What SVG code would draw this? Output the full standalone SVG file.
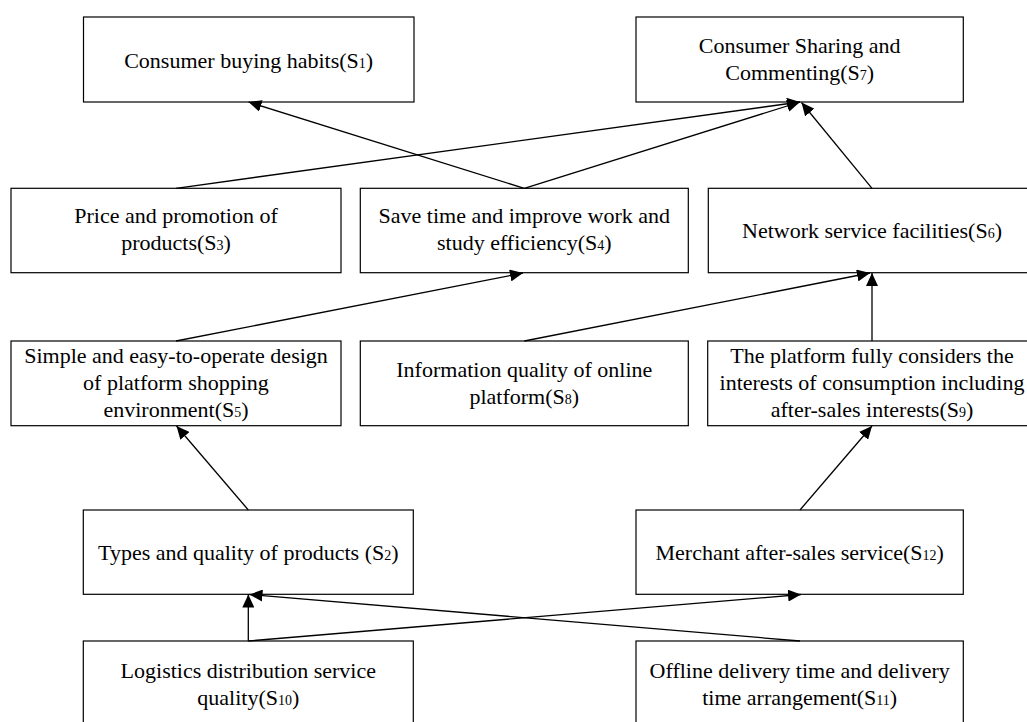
<svg xmlns="http://www.w3.org/2000/svg" width="1027" height="722" viewBox="0 0 1027 722">
<style>
.box{fill:#fff;stroke:#000;stroke-width:1.2}
.t{font-family:"Liberation Serif","Times New Roman",serif;font-size:22px;fill:#000;text-anchor:middle}
.sub{font-size:14px}
.c{stroke:#000;stroke-width:1.3;fill:none;marker-end:url(#ah)}
</style>
<defs>
<marker id="ah" markerUnits="userSpaceOnUse" markerWidth="14" markerHeight="12" refX="13" refY="6" orient="auto" viewBox="0 0 14 12">
<path d="M0,0 L13,6 L0,12 z" fill="#000"/>
</marker>
</defs>
<rect width="1027" height="722" fill="#fff"/>
<g id="S1"><rect class="box" x="83.5" y="17" width="330.5" height="85"/><text class="t" x="248.7" y="68">Consumer buying habits(S<tspan class="sub">1</tspan>)</text></g>
<g id="S7"><rect class="box" x="636" y="17" width="327.3" height="85"/><text class="t" x="799.7" y="53">Consumer Sharing and</text><text class="t" x="799.7" y="80">Commenting(S<tspan class="sub">7</tspan>)</text></g>
<g id="S3"><rect class="box" x="11" y="188.3" width="330" height="84.4"/><text class="t" x="176" y="223">Price and promotion of</text><text class="t" x="176" y="250">products(S<tspan class="sub">3</tspan>)</text></g>
<g id="S4"><rect class="box" x="360.3" y="188.3" width="328" height="84.4"/><text class="t" x="524.3" y="223">Save time and improve work and</text><text class="t" x="524.3" y="250">study efficiency(S<tspan class="sub">4</tspan>)</text></g>
<g id="S6"><rect class="box" x="708.3" y="188.3" width="327.5" height="84.4"/><text class="t" x="872" y="238">Network service facilities(S<tspan class="sub">6</tspan>)</text></g>
<g id="S5"><rect class="box" x="11" y="341" width="330" height="84.7"/><text class="t" x="176" y="363">Simple and easy-to-operate design</text><text class="t" x="176" y="390">of platform shopping</text><text class="t" x="176" y="417">environment(S<tspan class="sub">5</tspan>)</text></g>
<g id="S8"><rect class="box" x="360.3" y="341" width="328" height="84.7"/><text class="t" x="524.3" y="377">Information quality of online</text><text class="t" x="524.3" y="404">platform(S<tspan class="sub">8</tspan>)</text></g>
<g id="S9"><rect class="box" x="707.7" y="341" width="328" height="84.7"/><text class="t" x="872" y="363">The platform fully considers the</text><text class="t" x="872" y="390">interests of consumption including</text><text class="t" x="872" y="417">after-sales interests(S<tspan class="sub">9</tspan>)</text></g>
<g id="S2"><rect class="box" x="83.3" y="510" width="330" height="84.3"/><text class="t" x="248.3" y="560">Types and quality of products (S<tspan class="sub">2</tspan>)</text></g>
<g id="S12"><rect class="box" x="636" y="510" width="327.3" height="84.3"/><text class="t" x="799.7" y="560">Merchant after-sales service(S<tspan class="sub">12</tspan>)</text></g>
<g id="S10"><rect class="box" x="83.3" y="641" width="330" height="90"/><text class="t" x="248.3" y="678">Logistics distribution service</text><text class="t" x="248.3" y="705">quality(S<tspan class="sub">10</tspan>)</text></g>
<g id="S11"><rect class="box" x="636" y="641" width="327.3" height="90"/><text class="t" x="799.7" y="678">Offline delivery time and delivery</text><text class="t" x="799.7" y="705">time arrangement(S<tspan class="sub">11</tspan>)</text></g>
<g id="connectors">
<line class="c" x1="524.3" y1="188.3" x2="248.5" y2="102"/>
<line class="c" x1="176" y1="188.3" x2="800" y2="102"/>
<line class="c" x1="524.3" y1="188.3" x2="800" y2="102"/>
<line class="c" x1="872" y1="188.3" x2="801.5" y2="102.5"/>
<line class="c" x1="176" y1="341" x2="523" y2="273"/>
<line class="c" x1="524.3" y1="341" x2="870" y2="273"/>
<line class="c" x1="872" y1="341" x2="872" y2="273"/>
<line class="c" x1="248.3" y1="510" x2="176.5" y2="426"/>
<line class="c" x1="800" y1="510" x2="872" y2="426"/>
<line class="c" x1="248.3" y1="641" x2="248.3" y2="594.5"/>
<line class="c" x1="800" y1="641" x2="249.5" y2="594.5"/>
<line class="c" x1="248.3" y1="641" x2="801" y2="594.5"/>
</g>
</svg>
